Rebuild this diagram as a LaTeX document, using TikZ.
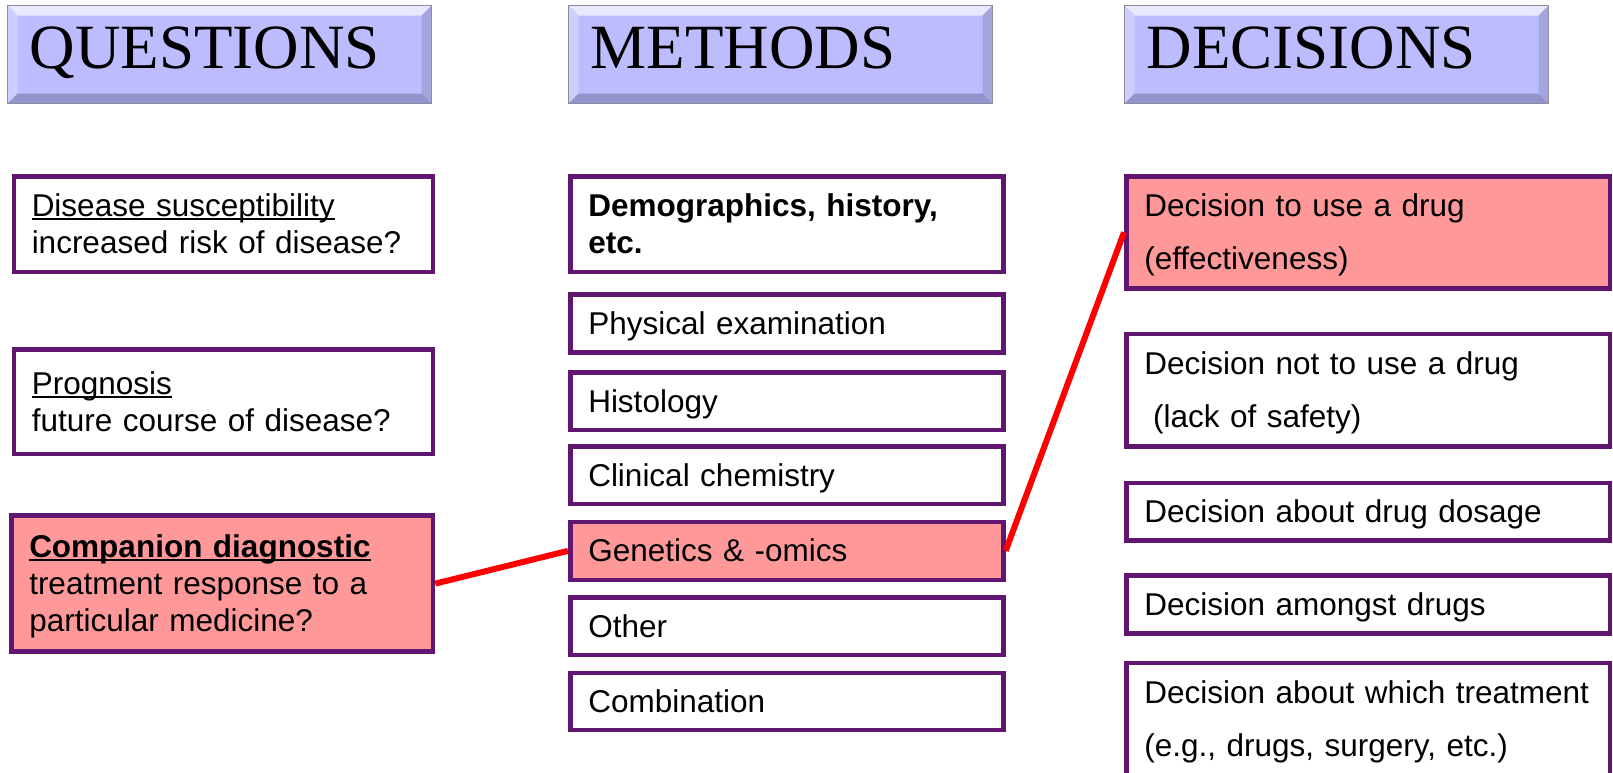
\documentclass[tikz,border=0pt]{standalone}
\usepackage{fontspec}
\setmainfont{Liberation Sans}
\newfontfamily\hdrserif{Liberation Serif}
\usetikzlibrary{calc}
\definecolor{boxline}{RGB}{96,22,112}
\definecolor{pinkfill}{RGB}{255,153,153}
\definecolor{hdrfill}{RGB}{188,188,255}
\definecolor{hdrborder}{RGB}{140,140,155}
\definecolor{hdrlight}{RGB}{232,232,255}
\definecolor{hdrleft}{RGB}{205,205,255}
\definecolor{hdrright}{RGB}{165,165,222}
\definecolor{hdrdark}{RGB}{148,148,205}
\definecolor{linkred}{RGB}{255,0,0}
\newcommand{\myul}[1]{\setbox0\hbox{#1}\rlap{\rule[-3.5pt]{\wd0}{2pt}}\box0}
\newcommand{\lnst}{\rule[-6.7pt]{0pt}{35.2pt}}
\tikzset{
  box/.style={draw=boxline, line width=4.5pt, fill=white, anchor=north west,
    inner xsep=18pt, inner ysep=0pt, align=left,
    font=\fontsize{31.5}{36.7}\selectfont,
    execute at begin node=\lnst, execute at end node=\lnst},
  hl/.style={fill=pinkfill},
  dec/.style={font=\fontsize{31.5}{53.5}\selectfont},
  qbox/.style={box, text width=383.2pt},
  mbox/.style={box, text width=397.1pt},
  dbox/.style={box, dec, text width=447.8pt},
  hdr/.style={draw=hdrborder, line width=1.2pt, fill=hdrfill, anchor=north west,
    inner xsep=22pt, inner ysep=0pt, text width=380pt, align=left,
    minimum height=98pt, text height=42pt, text depth=14pt,
    font=\hdrserif\fontsize{63}{70}\selectfont,
    path picture={
      \coordinate (NW) at (path picture bounding box.north west);
      \coordinate (NE) at (path picture bounding box.north east);
      \coordinate (SW) at (path picture bounding box.south west);
      \coordinate (SE) at (path picture bounding box.south east);
      \fill[hdrlight] (NW) -- (NE) -- ($(NE)+(-10,10)$) -- ($(NW)+(10,10)$) -- cycle;
      \fill[hdrleft] (NW) -- ($(NW)+(10,10)$) -- ($(SW)+(10,-10)$) -- (SW) -- cycle;
      \fill[hdrright] (NE) -- (SE) -- ($(SE)+(-10,-10)$) -- ($(NE)+(-10,10)$) -- cycle;
      \fill[hdrdark] (SW) -- (SE) -- ($(SE)+(-10,-10)$) -- ($(SW)+(10,-10)$) -- cycle;
    }},
  link/.style={draw=linkred, line width=6pt}
}
\begin{document}
\begin{tikzpicture}[x=1pt, y=-1pt]
\path[use as bounding box] (0,0) rectangle (1613,772);
\clip (0,0) rectangle (1613,772);

% headers
\node[hdr] (hq) at (7,5) {QUESTIONS};
\node[hdr] (hm) at (568,5) {METHODS};
\node[hdr] (hd) at (1124,5) {DECISIONS};

% questions
\node[qbox, minimum height=95.5pt] (q1) at (11.5,174) {\myul{Disease susceptibility}\\increased risk of disease?};
\node[qbox, minimum height=104.5pt] (q2) at (11.5,347.25) {\myul{Prognosis}\\future course of disease?};
\node[qbox, hl, text width=385.8pt, minimum height=136.2pt] (q3) at (9,513.25) {\textbf{\myul{Companion diagnostic}}\\treatment response to a\\particular medicine?};

% methods
\node[mbox, minimum height=95.5pt] (m1) at (568,174) {\textbf{Demographics, history,}\\\textbf{etc.}};
\node[mbox, minimum height=57.8pt] (m2) at (568,292.25) {Physical examination};
\node[mbox, minimum height=57.8pt] (m3) at (568,370) {Histology};
\node[mbox, minimum height=57.8pt] (m4) at (568,444) {Clinical chemistry};
\node[mbox, hl, minimum height=58.2pt] (m5) at (568,519.5) {Genetics \& -omics};
\node[mbox, minimum height=57.8pt] (m6) at (568,595) {Other};
\node[mbox, minimum height=57.2pt] (m7) at (568,670.5) {Combination};

% decisions
\node[dbox, hl, minimum height=112.1pt] (d1) at (1124,174) {Decision to use a drug\\(effectiveness)};
\node[dbox, minimum height=112.9pt] (d2) at (1124,331.5) {Decision not to use a drug\\\hspace*{0.28em}(lack of safety)};
\node[dbox, minimum height=57.9pt] (d3) at (1124,480.5) {Decision about drug dosage};
\node[dbox, minimum height=58.3pt] (d4) at (1124,573) {Decision amongst drugs};
\node[dbox, minimum height=112.2pt] (d5) at (1124,660.5) {\mbox{Decision about which treatment}\\(e.g., drugs, surgery, etc.)};

% connectors
\draw[link] (q3.east) -- (m5.west);
\draw[link] (m5.east) -- (d1.west);
\end{tikzpicture}
\end{document}
